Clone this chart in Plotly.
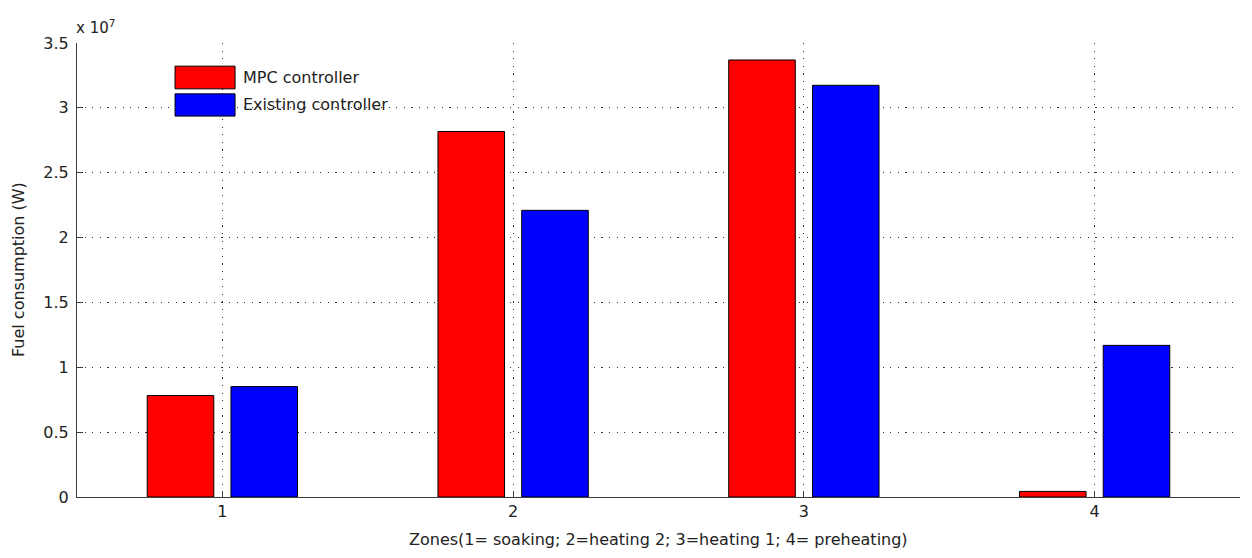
import plotly.graph_objects as go

zones = [1, 2, 3, 4]
mpc_fuel = [0.782e7, 2.818e7, 3.369e7, 0.043e7]
existing_fuel = [0.851e7, 2.21e7, 3.174e7, 1.169e7]

y_ticks = [0, 0.5e7, 1e7, 1.5e7, 2e7, 2.5e7, 3e7, 3.5e7]
y_labels = ["0", "0.5", "1", "1.5", "2", "2.5", "3", "3.5"]

font = "DejaVu Sans, Verdana, sans-serif"
axis_col = "#3c3c3c"
grid_dash = "1.2px,6.4px"

fig = go.Figure()
fig.add_trace(go.Bar(x=zones, y=mpc_fuel, name="MPC controller",
                     marker=dict(color="#ff0000", line=dict(color="black", width=1))))
fig.add_trace(go.Bar(x=zones, y=existing_fuel, name="Existing controller",
                     marker=dict(color="#0000ff", line=dict(color="black", width=1))))

# page body has an 8px margin, so the figure is a bit smaller than the window
fig.update_layout(
    width=1244, height=550,
    margin=dict(l=69, r=12, t=35, b=61),
    paper_bgcolor="white", plot_bgcolor="white",
    barmode="group", bargap=0.424, bargroupgap=0.205,
    showlegend=False,
    font=dict(family=font, size=16, color="#222"),
)

fig.update_xaxes(
    range=[0.5, 4.5], tickvals=zones, ticktext=[str(z) for z in zones],
    showline=True, linecolor=axis_col, linewidth=1,
    ticks="inside", ticklen=6, tickcolor=axis_col,
    showgrid=True, gridcolor="#333", griddash=grid_dash, gridwidth=1,
    zeroline=False, automargin=False,
)
fig.update_yaxes(
    range=[0, 3.5e7], tickvals=y_ticks, ticktext=y_labels,
    showline=True, linecolor=axis_col, linewidth=1,
    ticks="inside", ticklen=6, tickcolor=axis_col, ticklabelstandoff=4,
    showgrid=True, gridcolor="#333", griddash=grid_dash, gridwidth=1,
    zeroline=False, automargin=False,
)

# axis titles placed as annotations so the plot area stays fixed
fig.add_annotation(x=0.5, y=0, xref="paper", yref="paper", yanchor="top",
                   text="Zones(1= soaking; 2=heating 2; 3=heating 1; 4= preheating)",
                   showarrow=False, yshift=-31, font=dict(size=16))
fig.add_annotation(x=0, y=0.5, xref="paper", yref="paper", xanchor="center",
                   text="Fuel consumption (W)", textangle=-90,
                   showarrow=False, xshift=-59, font=dict(size=16))

# exponent label, MATLAB style
fig.add_annotation(x=0, y=1, xref="paper", yref="paper", xanchor="left", yanchor="bottom",
                   text="x 10<sup>7</sup>", showarrow=False, xshift=-3, yshift=4,
                   font=dict(size=15))

# legend drawn by hand so the swatches look like MATLAB's boxes
legend_items = [("MPC controller", "#ff0000", 0.949, 0.899),
                ("Existing controller", "#0000ff", 0.888, 0.839)]
for label, col, top, bot in legend_items:
    fig.add_shape(type="rect", xref="paper", yref="paper",
                  x0=0.0843, x1=0.1359, y0=bot, y1=top,
                  fillcolor=col, line=dict(color="black", width=1))
    fig.add_annotation(x=0.141, y=(top + bot) / 2, xref="paper", yref="paper",
                       xanchor="left", yanchor="middle", text=label,
                       showarrow=False, font=dict(size=16))

fig.write_html("out.html")
